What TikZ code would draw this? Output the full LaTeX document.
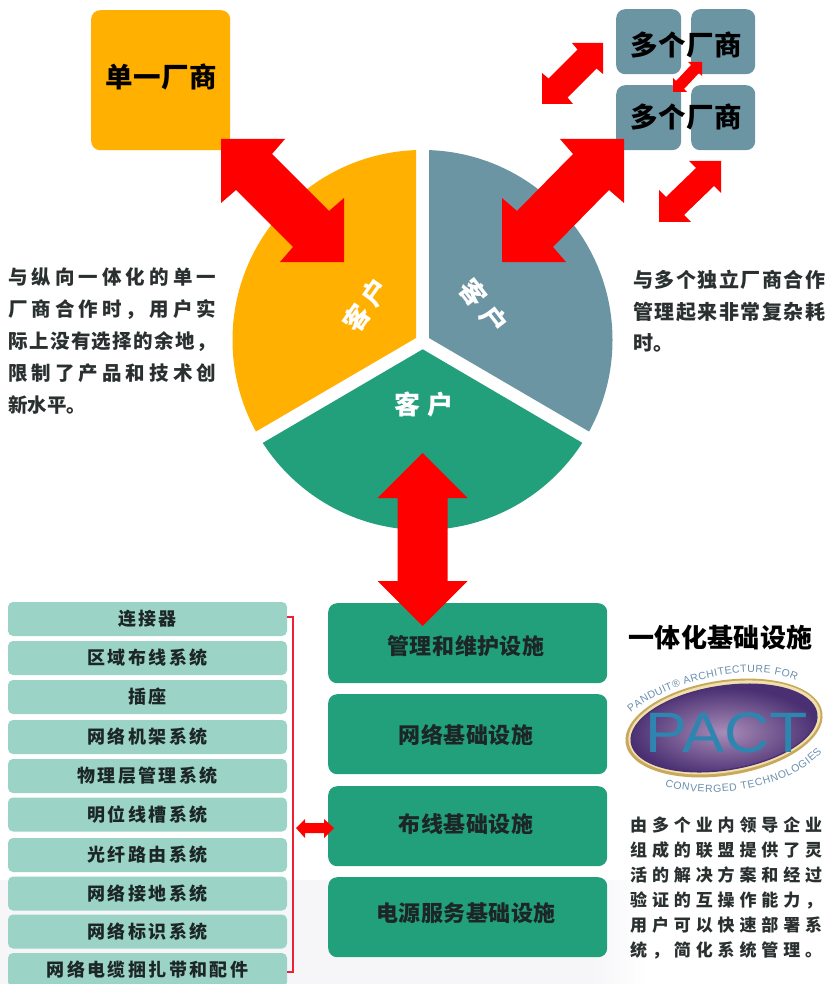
\documentclass[tikz,border=0pt]{standalone}
\usepackage{fontspec}
\usetikzlibrary{calc,decorations.text}
\newfontfamily\cjk{Noto Sans CJK SC}
\newfontfamily\logofont{Liberation Sans}
\definecolor{ambr}{HTML}{FFB000}
\definecolor{slat}{HTML}{6C95A4}
\definecolor{teal2}{HTML}{22A07B}
\definecolor{mint}{HTML}{9BD4C6}
\definecolor{inkk}{HTML}{1C2626}
\definecolor{parak}{HTML}{2A3030}
\definecolor{brk}{HTML}{EE2038}
\definecolor{band}{HTML}{F6F6F9}
\definecolor{logoblue}{HTML}{2E86B0}
\definecolor{logotext}{HTML}{6A8FAE}
\definecolor{logogold}{HTML}{C9A85C}
\definecolor{logocream}{HTML}{EFE0AC}
\definecolor{logoedge}{HTML}{4A2F72}
\definecolor{logomid}{HTML}{A88CB8}
\makeatletter
% letter-spaced text: kern between characters
\newcommand\lsp[2]{\hbox{\def\jsep{\def\jsep{\kern#1}}\@tfor\jc:=#2\do{\jsep\jc}}}
% justified line: characters spread over a fixed width
\newcommand\jl[2]{\hbox to #1{\def\jsep{\def\jsep{\hfil}}\@tfor\jc:=#2\do{\jsep\jc}}}
\makeatother
% double-headed 45-degree block arrow between two named tips
\newcommand\fatdiag[6]{%
  \fill[redarrow] (#1) -- ($(#1)+({#3*#4},0)$) -- ($(#1)+({#3*#5},#6)$)
   -- ($(#2)+({-#3*#6},{-#5})$) -- ($(#2)+(0,{-#4})$) -- (#2)
   -- ($(#2)+({-#3*#4},0)$) -- ($(#2)+({-#3*#5},{-#6})$)
   -- ($(#1)+({#3*#6},#5)$) -- ($(#1)+(0,#4)$) -- cycle;}
\tikzset{
  redarrow/.style={fill=red},
  tile/.style={rounded corners=#1,inner sep=0pt,anchor=north west},
  vendor/.style={font=\cjk\bfseries\fontsize{27.5}{27.5}\selectfont,text=black,inner sep=0pt},
  pietext/.style={font=\cjk\bfseries\fontsize{26}{26}\selectfont,text=white,inner sep=0pt},
  listbox/.style={fill=mint,rounded corners=5pt,inner sep=0pt,minimum width=279pt,
    font=\cjk\bfseries\fontsize{18}{18}\selectfont,text=inkk},
  infra/.style={fill=teal2,rounded corners=9pt,inner sep=0pt,minimum width=279pt,minimum height=80pt},
  infratext/.style={font=\cjk\bfseries\fontsize{22}{22}\selectfont,text=inkk,inner sep=0pt},
  para/.style={font=\cjk\bfseries\fontsize{19.5}{19.5}\selectfont,text=parak,inner sep=0pt,anchor=north west},
}
\begin{document}
\begin{tikzpicture}[x=1pt,y=-1pt]
\useasboundingbox (0,0) rectangle (828,984);
\fill[white] (0,0) rectangle (828,984);
\fill[band] (0,880) rectangle (590,984);
\shade[left color=band,right color=white] (590,880) rectangle (650,984);

% pie
\begin{scope}
  \clip (422.5,340) circle [radius=190];
  \fill[ambr] (416,338) -- (416,140) -- (96,140) -- (96,525) -- cycle;
  \fill[slat] (429,338) -- (429,140) -- (749,140) -- (749,525) -- cycle;
  \fill[teal2] (422.7,349.3) -- (743,537) -- (743,560) -- (102,560) -- (102,537) -- cycle;
\end{scope}
\node[pietext,rotate=55] (pieY) at (366,305) {\lsp{5pt}{客户}};
\node[pietext,rotate=-52] (pieB) at (483.5,306) {\lsp{8pt}{客户}};
\node[pietext] (pieG) at (424,405) {\lsp{7pt}{客户}};

% vendor tiles
\node[fill=ambr,tile=9pt,minimum width=139pt,minimum height=140pt] (single) at (91,10) {};
\node[vendor] (singleT) at (161.5,77) {\lsp{0.5pt}{单一厂商}};
\node[fill=slat,tile=9pt,minimum width=65pt,minimum height=65pt] (m1) at (616,9) {};
\node[fill=slat,tile=9pt,minimum width=64pt,minimum height=65pt] (m2) at (691,9) {};
\node[fill=slat,tile=9pt,minimum width=65pt,minimum height=65pt] (m3) at (616,85) {};
\node[fill=slat,tile=9pt,minimum width=64pt,minimum height=65pt] (m4) at (691,85) {};

% arrow tips
\coordinate (yA) at (221,139);  \coordinate (yB) at (344,262);
\coordinate (bA) at (624,139);  \coordinate (bB) at (502,262);
\coordinate (sA) at (603,43);   \coordinate (sB) at (542,104);
\coordinate (rA) at (721,161);  \coordinate (rB) at (659,222);
\coordinate (tA) at (702,62);   \coordinate (tB) at (673,92);
\fatdiag{yA}{yB}{1}{64}{51}{15}
\fatdiag{bA}{bB}{-1}{64}{51}{15}
\fatdiag{sA}{sB}{-1}{31}{25.5}{6.5}
\fatdiag{rA}{rB}{-1}{32}{25}{7}
\fatdiag{tA}{tB}{-1}{14}{11}{3}

\node[vendor] (mT1) at (686,45) {\lsp{0.5pt}{多个厂商}};
\node[vendor] (mT2) at (686,117) {\lsp{0.5pt}{多个厂商}};

% side texts
\node[para] (leftT) at (8,268) {\vbox{\baselineskip=32pt\lineskiplimit=-100pt
  \jl{208pt}{与纵向一体化的单一}
  \jl{208pt}{厂商合作时，用户实}
  \jl{208pt}{际上没有选择的余地，}
  \jl{208pt}{限制了产品和技术创}
  \hbox{新水平。}}};
\node[para,font=\cjk\bfseries\fontsize{20}{20}\selectfont] (rightT) at (633,270) {\vbox{\baselineskip=31.5pt\lineskiplimit=-100pt
  \jl{192pt}{与多个独立厂商合作}
  \jl{192pt}{管理起来非常复杂耗}
  \hbox{时。}}};

% infrastructure boxes
\node[infra,anchor=north west] (i1) at (328,603) {};
\node[infra,anchor=north west] (i2) at (328,694) {};
\node[infra,anchor=north west] (i3) at (328,786) {};
\node[infra,anchor=north west] (i4) at (328,877) {};
\node[infratext] (i1t) at (466,646) {\lsp{0.5pt}{管理和维护设施}};
\node[infratext] (i2t) at (466,735) {\lsp{0.5pt}{网络基础设施}};
\node[infratext] (i3t) at (466,824) {\lsp{0.5pt}{布线基础设施}};
\node[infratext] (i4t) at (466,913) {\lsp{0.5pt}{电源服务基础设施}};

% vertical block arrow
\coordinate (vT) at (422.5,453);
\coordinate (vB) at (422.5,626);
\fill[redarrow] (vT) -- ($(vT)+(45,45)$) -- ($(vT)+(25,45)$) -- ($(vB)+(25,-45)$) -- ($(vB)+(45,-45)$)
  -- (vB) -- ($(vB)+(-45,-45)$) -- ($(vB)+(-25,-45)$) -- ($(vT)+(-25,45)$) -- ($(vT)+(-45,45)$) -- cycle;

% component list
\begin{scope}[every node/.style={listbox}]
\node[minimum height=34pt] (l1) at (147.5,619) {\lsp{2.4pt}{连接器}};
\node[minimum height=34pt] (l2) at (147.5,658) {\lsp{2.4pt}{区域布线系统}};
\node[minimum height=34pt] (l3) at (147.5,697) {\lsp{2.4pt}{插座}};
\node[minimum height=34pt] (l4) at (147.5,737) {\lsp{2.4pt}{网络机架系统}};
\node[minimum height=34pt] (l5) at (147.5,776) {\lsp{2.4pt}{物理层管理系统}};
\node[minimum height=34pt] (l6) at (147.5,814.5) {\lsp{2.4pt}{明位线槽系统}};
\node[minimum height=34pt] (l7) at (147.5,855) {\lsp{2.4pt}{光纤路由系统}};
\node[minimum height=34pt] (l8) at (147.5,893.5) {\lsp{2.4pt}{网络接地系统}};
\node[minimum height=34pt] (l9) at (147.5,931.5) {\lsp{2.4pt}{网络标识系统}};
\node[minimum height=34pt] (l10) at (147.5,970) {\lsp{2.4pt}{网络电缆捆扎带和配件}};
\end{scope}

% bracket
\draw[brk,line width=1.6pt] ([yshift=2pt]l1.east) -- ++(6,0) |- ([yshift=-2pt]l10.east);

% small horizontal arrow
\coordinate (hL) at (296,828);
\coordinate (hR) at (334,828);
\fill[redarrow] (hL) -- ($(hL)+(9,-9)$) -- ($(hL)+(9,-5)$) -- ($(hR)+(-10,-5)$) -- ($(hR)+(-10,-9)$)
  -- (hR) -- ($(hR)+(-10,10)$) -- ($(hR)+(-10,5)$) -- ($(hL)+(9,5)$) -- ($(hL)+(9,10)$) -- cycle;

% heading
\node[font=\cjk\bfseries\fontsize{26}{26}\selectfont,text=black,inner sep=0pt] (head) at (720.5,638) {\lsp{0.4pt}{一体化基础设施}};

% PACT logo
\begin{scope}[shift={(724,728)},rotate=9]
  \fill[logogold] (0,0) ellipse [x radius=99.5,y radius=47.5];
  \fill[logocream] (0.5,-0.5) ellipse [x radius=97,y radius=45];
  \fill[logoedge] (0,0) ellipse [x radius=94.5,y radius=42.5];
  \shade[inner color=logomid,outer color=logoedge] (0,0) ellipse [x radius=93,y radius=41];
\end{scope}
\node[font=\logofont\fontsize{57}{57}\selectfont,text=logoblue,inner sep=0pt] (pact) at (726.5,733) {\scalebox{1.1}[1]{PACT}};
\path[decorate,decoration={text along path,text align=fit to path,
  text={|\logofont\fontsize{10.5}{10.5}\selectfont\color{logotext}|PANDUIT® ARCHITECTURE FOR}}]
  (631,713) .. controls (662,685) and (750,658) .. (796,681);
\path[decorate,decoration={text along path,text align=fit to path,
  text={|\logofont\fontsize{10.5}{10.5}\selectfont\color{logotext}|CONVERGED TECHNOLOGIES}}]
  (665,786) .. controls (710,800) and (788,790) .. (822,752);

% consortium text
\node[para,font=\cjk\bfseries\fontsize{17}{17}\selectfont] (lowT) at (630,817) {\vbox{\baselineskip=25pt\lineskiplimit=-100pt
  \jl{192pt}{由多个业内领导企业}
  \jl{192pt}{组成的联盟提供了灵}
  \jl{192pt}{活的解决方案和经过}
  \jl{192pt}{验证的互操作能力，}
  \jl{192pt}{用户可以快速部署系}
  \jl{192pt}{统，简化系统管理。}}};
\end{tikzpicture}
\end{document}
